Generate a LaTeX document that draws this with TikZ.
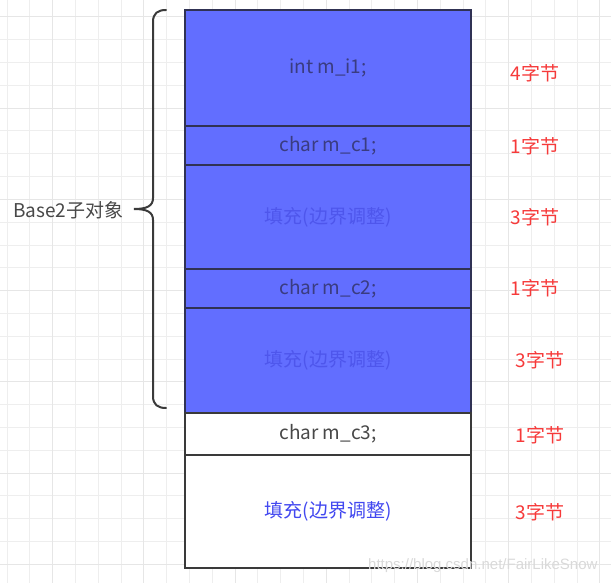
\documentclass[tikz,border=0pt]{standalone}
\usepackage{fontspec}
\setmainfont{Noto Sans CJK SC}
\setsansfont{Liberation Sans}
\usetikzlibrary{positioning}
\definecolor{overlayBlue}{RGB}{98,110,255}
\definecolor{overlayEdge}{RGB}{48,50,84}
\definecolor{overlayText}{RGB}{58,60,128}
\definecolor{overlayPad}{RGB}{78,86,236}
\definecolor{plainEdge}{RGB}{58,58,58}
\definecolor{plainText}{RGB}{72,72,72}
\definecolor{plainPad}{RGB}{66,72,240}
\definecolor{sizeRed}{RGB}{246,58,58}
\tikzset{%
  memberNode/.style={rectangle, draw=plainEdge, fill=white, line width=2pt, minimum width=286pt, inner sep=0pt, outer sep=0pt, text=plainText, font=\fontsize{19}{22}\selectfont},
  % rows under the blue Base2 part
  blueMember/.style={memberNode, draw=overlayEdge, fill=overlayBlue, text=overlayText},
  bluePadding/.style={blueMember, text=overlayPad},
  plainPadding/.style={memberNode, text=plainPad},
  %
  sizeLabel/.style={text=sizeRed, font=\fontsize{19}{22}\selectfont},
  braceLine/.style={draw=plainEdge, line width=2pt, line cap=round},
  gridMinor/.style={draw={rgb,255:red,238;green,238;blue,238}, line width=1pt},
  gridMajor/.style={draw={rgb,255:red,230;green,230;blue,230}, line width=1pt}}

\begin{document}
\begin{tikzpicture}[x=1pt,y=-1pt]
    \useasboundingbox (0,0) rectangle (611,583);
    %Grid
    \foreach \k in {0,...,26} \draw[gridMinor] (7.1+22.8*\k,0) -- (7.1+22.8*\k,583);
    \foreach \k in {-1,...,25} \draw[gridMinor] (0,17+22.8*\k) -- (611,17+22.8*\k);
    \foreach \k in {0,...,6} \draw[gridMajor] (52.7+91.2*\k,0) -- (52.7+91.2*\k,583);
    \foreach \k in {0,...,6} \draw[gridMajor] (0,17+91.2*\k) -- (611,17+91.2*\k);

    %Nodes
    \node[blueMember, minimum height=116pt] (mI1) at (328,68) {int m\_i1;};
    \node[blueMember, minimum height=39pt] (mC1) at (328,145.5) {char m\_c1;};
    \node[bluePadding, minimum height=104pt] (pad1) at (328,217) {填充(边界调整)};
    \node[blueMember, minimum height=39pt] (mC2) at (328,288.5) {char m\_c2;};
    \node[bluePadding, minimum height=105pt] (pad2) at (328,360.5) {填充(边界调整)};
    \node[memberNode, minimum height=42pt] (mC3) at (328,434) {char m\_c3;};
    \node[plainPadding, minimum height=113pt] (pad3) at (328,511.5) {填充(边界调整)};

    \node[sizeLabel] (sI1) at (535,73) {4字节};
    \node[sizeLabel] (sC1) at (535,146) {1字节};
    \node[sizeLabel] (sPad1) at (535,217) {3字节};
    \node[sizeLabel] (sC2) at (535,288) {1字节};
    \node[sizeLabel] (sPad2) at (540,360) {3字节};
    \node[sizeLabel] (sC3) at (540,435) {1字节};
    \node[sizeLabel] (sPad3) at (540,512) {3字节};

    \node[text=plainText, anchor=east, font=\fontsize{19}{22}\selectfont] (base2) at (127,210) {Base2子对象};

    %Brace
    \draw[braceLine] (166,10) .. controls (158,10) and (153,13) .. (153,22) -- (153,198)
        .. controls (153,206) and (147,209) .. (134,209)
        .. controls (147,209) and (153,212) .. (153,220) -- (153,396)
        .. controls (153,405) and (158,408) .. (166,408);

    %Watermark
    \node[text=gray!30, font=\sffamily\fontsize{15}{18}\selectfont, anchor=east] (mark) at (601,566) {https://blog.csdn.net/FairLikeSnow};
\end{tikzpicture}
\end{document}
